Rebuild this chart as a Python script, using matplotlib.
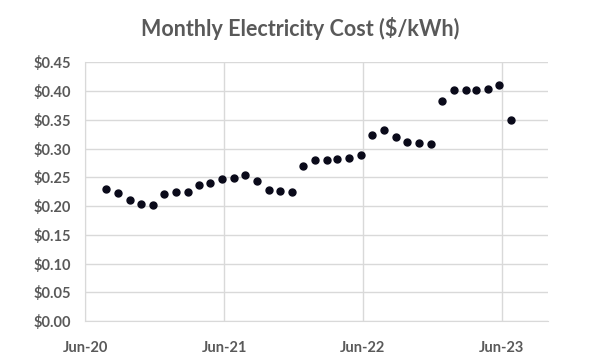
import matplotlib.pyplot as plt
import matplotlib.dates as mdates
from matplotlib.ticker import FuncFormatter
import pandas as pd

# Monthly readings Jul-2020 .. Jun-2023 (read around the 26th of each month)
dates = pd.date_range('2020-07-01', periods=36, freq='MS') + pd.Timedelta(days=25)
cost = [0.229, 0.222, 0.210, 0.204, 0.202, 0.221, 0.224, 0.224, 0.236, 0.240,
        0.247, 0.249, 0.254, 0.243, 0.228, 0.226, 0.224, 0.270, 0.280, 0.280,
        0.282, 0.284, 0.288, 0.323, 0.332, 0.320, 0.311, 0.309, 0.308, 0.382,
        0.401, 0.401, 0.401, 0.404, 0.410, 0.350]
y_ticks = [0.00, 0.05, 0.10, 0.15, 0.20, 0.25, 0.30, 0.35, 0.40, 0.45]
x_ticks = pd.to_datetime(['2020-06-01', '2021-06-01', '2022-06-01', '2023-06-01'])

grey = '#595959'
grid = '#d9d9d9'

fig = plt.figure(figsize=(6, 3.6), dpi=100)
ax = fig.add_axes([0.142, 0.108, 0.771, 0.719])

ax.plot(dates, cost, linestyle='none', marker='o', markersize=5,
        color='#0a0a1a', zorder=3)

ax.set_xlim(pd.Timestamp('2020-06-01'), pd.Timestamp('2023-09-30'))
ax.set_ylim(0, 0.45)
ax.set_xticks(x_ticks)
ax.xaxis.set_major_formatter(mdates.DateFormatter('%b-%y'))
ax.set_yticks(y_ticks)
ax.yaxis.set_major_formatter(FuncFormatter(lambda v, p: f'${v:.2f}'))

ax.grid(True, color=grid, linewidth=1)
ax.set_axisbelow(True)
for s in ['top', 'right']:
    ax.spines[s].set_visible(False)
for s in ['left', 'bottom']:
    ax.spines[s].set_color(grid)
ax.tick_params(length=0, pad=10, labelsize=10.5, labelcolor=grey)
for lbl in ax.get_xticklabels() + ax.get_yticklabels():
    lbl.set_fontweight('bold')
    lbl.set_family('Lato')
ax.tick_params(axis='x', pad=14)

fig.text(0.5, 0.922, 'Monthly Electricity Cost ($/kWh)', ha='center', va='center',
         fontsize=15.5, fontweight='bold', color=grey, family='Lato')

fig.savefig('out.png', dpi=100)
